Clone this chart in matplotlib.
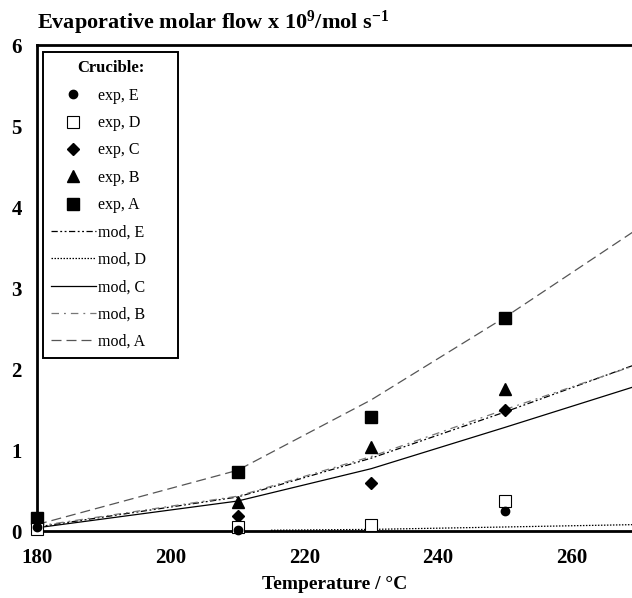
import numpy as np
import matplotlib
matplotlib.use("Agg")
import matplotlib.pyplot as plt
from matplotlib.legend_handler import HandlerLine2D

plt.rcParams['font.family'] = ['Liberation Serif', 'DejaVu Serif']
plt.rcParams['mathtext.fontset'] = 'custom'
plt.rcParams['mathtext.rm'] = 'Liberation Serif:bold'
plt.rcParams['mathtext.it'] = 'Liberation Serif:bold'
plt.rcParams['mathtext.bf'] = 'Liberation Serif:bold'
plt.rcParams['mathtext.default'] = 'rm'

# experimental points
t_e = [180, 210, 250]
exp_e = [0.05, 0.01, 0.25]
t_exp = [180, 210, 230, 250]
exp_d = [0.02, 0.05, 0.07, 0.37]
exp_c = [0.10, 0.18, 0.59, 1.50]
exp_b = [0.10, 0.36, 1.04, 1.75]
exp_a = [0.16, 0.73, 1.41, 2.63]

# model curves
t_mod = [180, 210, 230, 250, 270]
mod_e = [0.05, 0.42, 0.90, 1.47, 2.07]
mod_b = [0.06, 0.43, 0.92, 1.50, 2.06]
mod_c = [0.04, 0.37, 0.77, 1.28, 1.80]
mod_a = [0.08, 0.75, 1.62, 2.64, 3.74]
t_d = [215, 230, 250, 270]
mod_d = [0.01, 0.02, 0.05, 0.08]


class RightMarker(HandlerLine2D):
    # put the legend marker at the right end of the handle, next to the text
    def get_xdata(self, legend, xdescent, ydescent, width, height, fontsize):
        xd, xm = super().get_xdata(legend, xdescent, ydescent, width, height, fontsize)
        return xd, [width - xdescent - 6]


fig = plt.figure(figsize=(6.32, 5.98), dpi=100)
ax = fig.add_axes([0.0585, 0.112, 0.9415, 0.8125])

ax.plot(t_mod, mod_e, color='black', lw=0.9, dashes=[5, 2, 1.5, 2, 1.5, 2], label='mod, E')
ax.plot(t_d, mod_d, color='black', lw=0.9, dashes=[1.2, 1.2], label='mod, D')
ax.plot(t_mod, mod_c, color='black', lw=0.9, label='mod, C')
ax.plot(t_mod, mod_b, color='#777777', lw=0.9, dashes=[6, 4, 1.5, 4], label='mod, B')
ax.plot(t_mod, mod_a, color='#555555', lw=0.9, dashes=[8, 4], label='mod, A')

pa, = ax.plot(t_exp, exp_a, 's', color='black', ms=9, clip_on=False, label='exp, A', zorder=5)
pb, = ax.plot(t_exp, exp_b, '^', color='black', ms=8, clip_on=False, label='exp, B', zorder=5)
pc, = ax.plot(t_exp, exp_c, 'D', color='black', ms=6.5, clip_on=False, label='exp, C', zorder=5)
pd, = ax.plot(t_exp, exp_d, 's', mfc='white', mec='black', mew=0.8, ms=8.5, clip_on=False, label='exp, D', zorder=5)
pe, = ax.plot(t_e, exp_e, 'o', color='black', ms=6, clip_on=False, label='exp, E', zorder=6)

ax.set_xlim(180, 269)
ax.set_ylim(0, 6)
ax.set_xticks([180, 200, 220, 240, 260])
ax.set_yticks([0, 1, 2, 3, 4, 5, 6])
ax.tick_params(length=0, labelsize=15)
ax.tick_params(axis='x', pad=12)
ax.tick_params(axis='y', pad=11)
for lab in ax.get_xticklabels() + ax.get_yticklabels():
    lab.set_fontweight('bold')
for s in ['left', 'bottom', 'top']:
    ax.spines[s].set_linewidth(2)
ax.spines['right'].set_visible(False)

ax.set_xlabel('Temperature / °C', fontsize=14, fontweight='bold', labelpad=6)
fig.text(0.0585, 0.952, 'Evaporative molar flow x 10$^{9}$/mol s$^{-1}$',
         fontsize=16, fontweight='bold', ha='left', va='baseline')

h, l = ax.get_legend_handles_labels()
order = ['exp, E', 'exp, D', 'exp, C', 'exp, B', 'exp, A',
         'mod, E', 'mod, D', 'mod, C', 'mod, B', 'mod, A']
hs = [h[l.index(o)] for o in order]
hmap = {p: RightMarker(numpoints=1) for p in [pa, pb, pc, pd, pe]}
leg = ax.legend(hs, order, loc='upper left', bbox_to_anchor=(0.01, 0.0, 0.227, 0.985),
                mode='expand', title='Crucible:', fontsize=11.5, handlelength=2.8,
                handletextpad=0.15, labelspacing=0.71, borderpad=0.5, fancybox=False,
                framealpha=1, edgecolor='black', borderaxespad=0, handler_map=hmap)
leg.get_title().set_fontweight('bold')
leg.get_title().set_fontsize(12)
leg.get_frame().set_linewidth(1.4)

fig.savefig('out.png', dpi=100)
